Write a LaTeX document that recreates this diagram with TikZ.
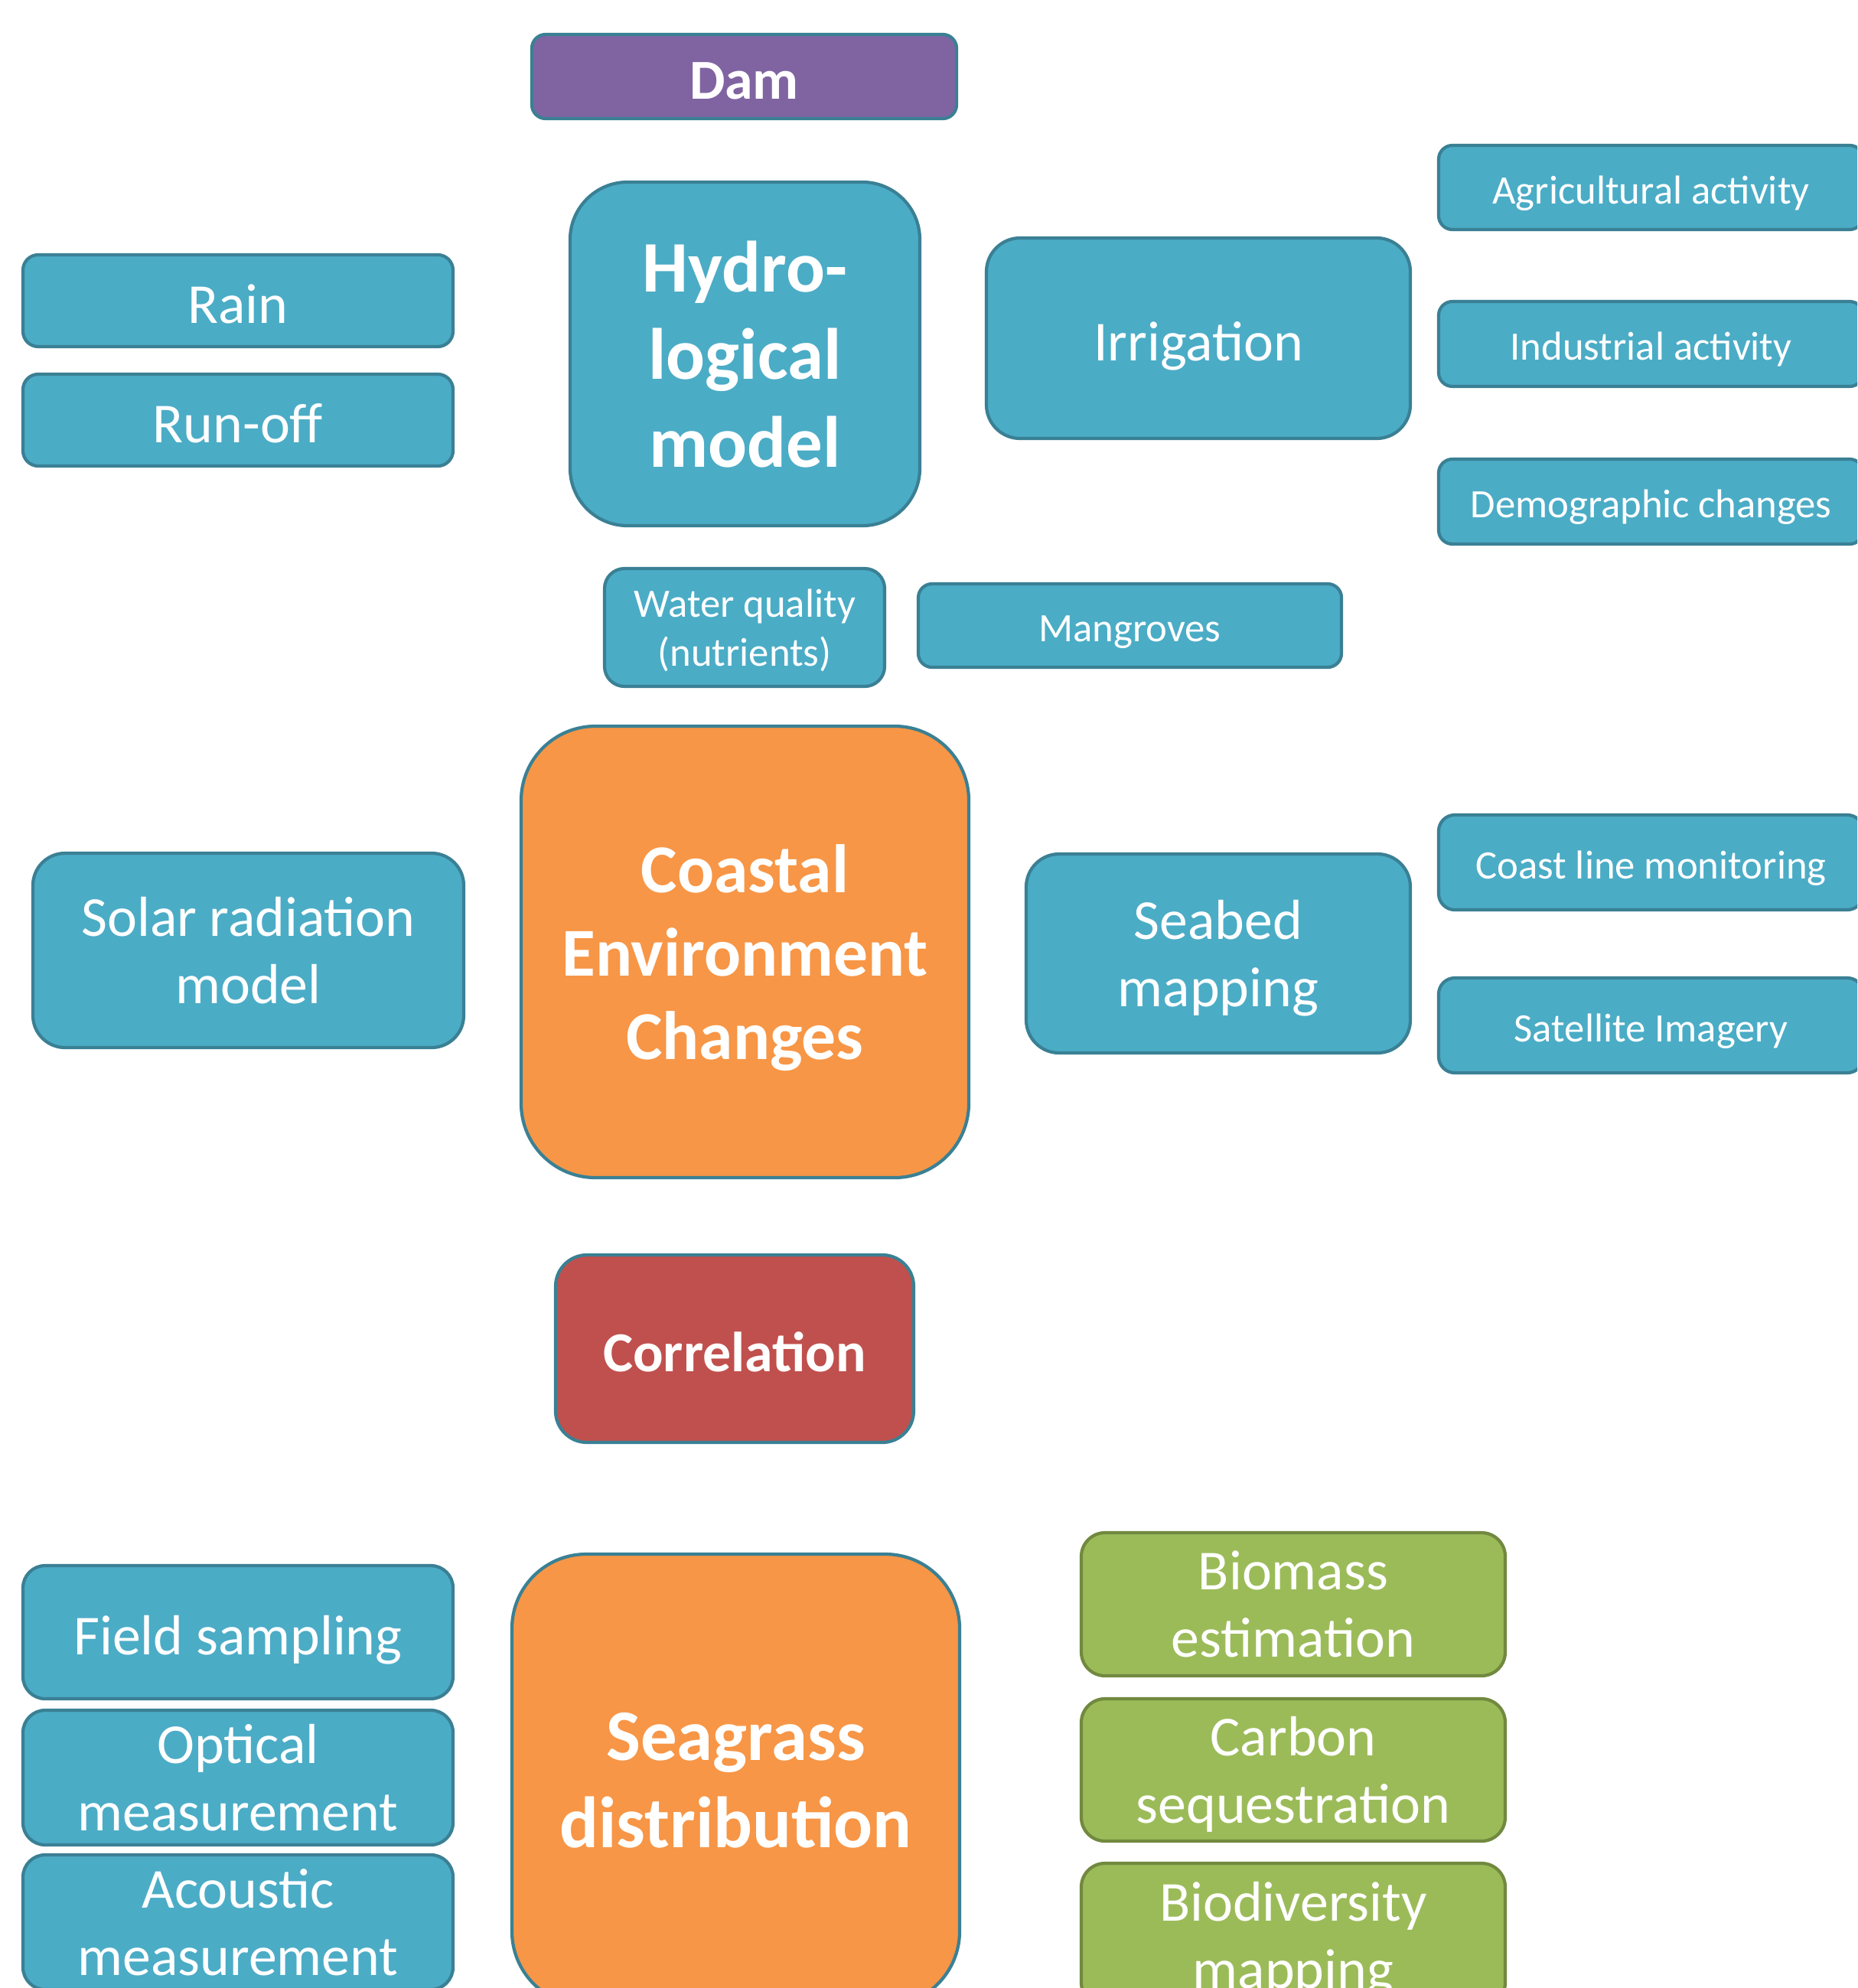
\documentclass[tikz,border=0pt]{standalone}
\usepackage{fontspec}
\setmainfont{Carlito}
\newcommand{\fsz}[2]{\fontsize{#1pt}{#2pt}\selectfont}
\newcommand{\lowstrut}{\rule[-0.2em]{0pt}{1.2em}}

\definecolor{edge}{HTML}{3A8094}
\definecolor{blueF}{HTML}{4BACC6}
\definecolor{orangeF}{HTML}{F79646}
\definecolor{redF}{HTML}{C0504D}
\definecolor{purpleF}{HTML}{8064A2}
\definecolor{greenF}{HTML}{9BBB59}
\definecolor{greenE}{HTML}{71893F}

\tikzset{
  box/.style={draw=edge, line width=1.2pt, text=white, align=center, inner sep=0pt,
    execute at begin node=\lowstrut, execute at end node=\lowstrut},
  multi/.style={text depth=-0.5pt},
  bluebox/.style={box, fill=blueF},
  greenbox/.style={box, draw=greenE, fill=greenF},
  smalltxt/.style={font=\fsz{15}{18.3}},
  midtxt/.style={font=\fsz{21}{25}},
}

\begin{document}
\begin{tikzpicture}[x=1cm,y=-1cm]
\useasboundingbox (0,0) rectangle (24.27,25.98);
\clip (0,0) rectangle (24.27,25.98);

% top block
\node[box, fill=purpleF, font=\fsz{21}{25}\bfseries, minimum width=5.55cm, minimum height=1.10cm, rounded corners=0.18cm] (dam) at (9.725,1.0) {Dam};
\node[bluebox, multi, font=\fsz{27}{32.5}\bfseries, minimum width=4.57cm, minimum height=4.49cm, rounded corners=0.75cm] (hydro) at (9.735,4.625) {Hydro-\\logical\\model};
\node[bluebox, midtxt, minimum width=5.62cm, minimum height=1.20cm, rounded corners=0.2cm] (rain) at (3.11,3.93) {Rain};
\node[bluebox, midtxt, minimum width=5.62cm, minimum height=1.20cm, rounded corners=0.2cm] (runoff) at (3.11,5.49) {Run-off};
\node[bluebox, midtxt, minimum width=5.54cm, minimum height=2.62cm, rounded corners=0.44cm] (irrig) at (15.66,4.42) {Irrigation};
\node[bluebox, smalltxt, minimum width=5.55cm, minimum height=1.10cm, rounded corners=0.18cm] (agri) at (21.575,2.45) {Agricultural activity};
\node[bluebox, smalltxt, minimum width=5.55cm, minimum height=1.11cm, rounded corners=0.18cm] (indus) at (21.575,4.495) {Industrial activity};
\node[bluebox, smalltxt, minimum width=5.55cm, minimum height=1.11cm, rounded corners=0.18cm] (demog) at (21.575,6.555) {Demographic changes};
\node[bluebox, multi, smalltxt, minimum width=3.66cm, minimum height=1.54cm, rounded corners=0.26cm] (water) at (9.73,8.20) {Water quality\\(nutrients)};
\node[bluebox, smalltxt, minimum width=5.53cm, minimum height=1.09cm, rounded corners=0.18cm] (mangr) at (14.765,8.175) {Mangroves};

% middle block
\node[box, multi, fill=orangeF, font=\fsz{25.5}{31}\bfseries, minimum width=5.85cm, minimum height=5.90cm, rounded corners=0.97cm] (coastal) at (9.735,12.44) {Coastal\\Environment\\Changes};
\node[bluebox, multi, midtxt, minimum width=5.63cm, minimum height=2.54cm, rounded corners=0.42cm] (solar) at (3.245,12.42) {Solar radiation\\model};
\node[bluebox, multi, midtxt, minimum width=5.02cm, minimum height=2.60cm, rounded corners=0.43cm] (seabed) at (15.92,12.46) {Seabed\\mapping};
\node[bluebox, smalltxt, minimum width=5.55cm, minimum height=1.24cm, rounded corners=0.21cm] (coastln) at (21.575,11.27) {Coast line monitoring};
\node[bluebox, smalltxt, minimum width=5.55cm, minimum height=1.24cm, rounded corners=0.21cm] (satel) at (21.575,13.40) {Satellite Imagery};
\node[box, fill=redF, font=\fsz{21}{25}\bfseries, minimum width=4.68cm, minimum height=2.45cm, rounded corners=0.41cm] (correl) at (9.60,17.625) {Correlation};

% bottom block
\node[box, multi, fill=orangeF, font=\fsz{27}{32.5}\bfseries, minimum width=5.85cm, minimum height=5.90cm, rounded corners=0.97cm] (seagr) at (9.615,23.26) {Seagrass\\distribution};
\node[bluebox, midtxt, minimum width=5.62cm, minimum height=1.74cm, rounded corners=0.29cm] (field) at (3.11,21.33) {Field sampling};
\node[bluebox, multi, midtxt, minimum width=5.62cm, minimum height=1.76cm, rounded corners=0.29cm] (optic) at (3.11,23.23) {Optical\\measurement};
\node[bluebox, multi, midtxt, minimum width=5.62cm, minimum height=1.76cm, rounded corners=0.29cm] (acoust) at (3.11,25.12) {Acoustic\\measurement};
\node[greenbox, multi, midtxt, minimum width=5.54cm, minimum height=1.87cm, rounded corners=0.31cm] (biomass) at (16.90,20.965) {Biomass\\estimation};
\node[greenbox, multi, midtxt, minimum width=5.54cm, minimum height=1.86cm, rounded corners=0.31cm] (carbon) at (16.90,23.13) {Carbon\\sequestration};
\node[greenbox, multi, midtxt, minimum width=5.54cm, minimum height=1.87cm, rounded corners=0.31cm] (biodiv) at (16.90,25.285) {Biodiversity\\mapping};

\end{tikzpicture}
\end{document}
